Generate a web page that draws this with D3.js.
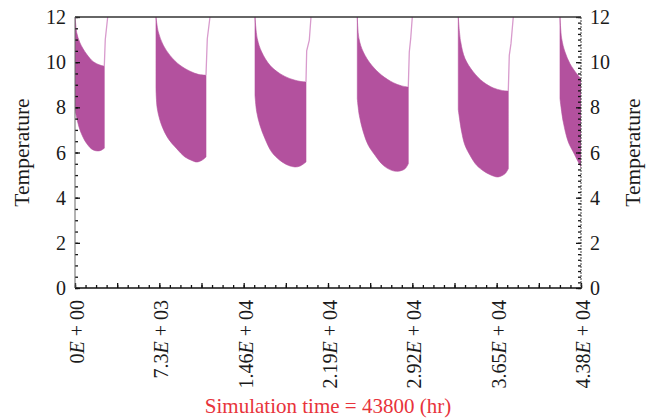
<!DOCTYPE html>
<html><head><meta charset="utf-8">
<script src="https://cdn.jsdelivr.net/npm/d3@7"></script>
<style>
body{margin:0;background:#fff;}
svg{display:block;}
text{font-family:"Liberation Serif","DejaVu Serif",serif;fill:#1a1a1a;}
</style>
</head><body><svg id="c" width="658" height="418"></svg>
<script>
// Upper envelope of the temperature band for each yearly cycle: [time (hr), temperature]
const upperEnvelope = [
  [[0,12.0],[50,11.75],[150,11.3],[433,10.85],[1013,10.35],[1584,10.02],[2164,9.87],[2536,9.82]],
  [[7011,12.0],[7210,11.34],[7643,10.75],[8223,10.3],[9089,9.86],[9954,9.6],[10673,9.46],[11339,9.42]],
  [[15581,12.0],[15780,11.04],[16161,10.45],[16880,9.86],[17745,9.49],[18611,9.27],[19476,9.15],[19995,9.12]],
  [[24436,12.0],[24583,11.04],[24955,10.45],[25682,9.86],[26548,9.42],[27552,9.09],[28279,8.95],[28850,8.9]],
  [[33178,12.0],[33386,10.9],[33758,10.16],[34477,9.57],[35342,9.12],[36208,8.86],[36935,8.75],[37506,8.72]],
  [[41982,12.0],[42129,11.04],[42415,10.45],[42848,9.93],[43428,9.49],[43800,9.27]]
];
// Lower envelope of the band
const lowerEnvelope = [
  [[0,7.9],[430,7.0],[1010,6.4],[1585,6.11],[2164,6.08],[2536,6.19]],
  [[7011,8.83],[7124,7.94],[7505,7.2],[8076,6.61],[8803,6.17],[9522,5.8],[10102,5.65],[10535,5.58],[10967,5.65],[11339,5.8]],
  [[15581,8.53],[15728,7.8],[16014,7.2],[16447,6.61],[17027,6.02],[17745,5.65],[18463,5.43],[19043,5.36],[19476,5.4],[19995,5.58]],
  [[24436,8.38],[24609,7.65],[24955,6.91],[25388,6.32],[25968,5.88],[26686,5.43],[27413,5.21],[27985,5.17],[28565,5.28],[28850,5.5]],
  [[33178,7.9],[33472,6.91],[33758,6.32],[34191,5.88],[34771,5.43],[35489,5.14],[36208,4.96],[36641,4.92],[37221,5.06],[37506,5.28]],
  [[41982,8.38],[42267,7.35],[42700,6.47],[43133,6.02],[43566,5.58],[43800,5.36]]
];
// Thin recovery line after each band
const recoveryLine = [
  [[2536,9.82],[2620,11.0],[2830,12.0]],
  [[11339,9.42],[11452,11.04],[11685,12.0]],
  [[19995,9.12],[20055,10.5],[20281,10.97],[20428,12.0]],
  [[28850,8.9],[28937,10.45],[29058,11.04],[29197,12.0]],
  [[37506,8.72],[37592,10.3],[37739,10.82],[37938,12.0]]
];
const xTickValues = [0, 7300, 14600, 21900, 29200, 36500, 43800];
const xTickMantissa = ["0", "7.3", "1.46", "2.19", "2.92", "3.65", "4.38"];
const xTickExponent = ["00", "03", "04", "04", "04", "04", "04"];
const yTickValues = [0, 2, 4, 6, 8, 10, 12];
const xTitle = "Simulation time = 43800 (hr)";
const yTitle = "Temperature";

const svg = d3.select("#c");
const L = 75, R = 581, T = 17, B = 288;
const x = d3.scaleLinear().domain([0, 43800]).range([L, R]);
const y = d3.scaleLinear().domain([0, 12]).range([B, T]);

svg.append("defs").append("clipPath").attr("id","clip")
  .append("rect").attr("x", L).attr("y", T).attr("width", R-L).attr("height", B-T);

const plot = svg.append("g").attr("clip-path","url(#clip)");
const line = d3.line().x(d => x(d[0])).y(d => y(d[1])).curve(d3.curveCatmullRom);

upperEnvelope.forEach((up, i) => {
  const lo = lowerEnvelope[i].slice().reverse();
  const d = line(up) + "L" + line(lo).slice(1) + "Z";
  plot.append("path").attr("d", d).attr("fill", "#b3519e").attr("stroke", "#b3519e").attr("stroke-width", 0.6);
});
const lineLin = d3.line().x(d => x(d[0])).y(d => y(d[1]));
recoveryLine.forEach(r => {
  plot.append("path").attr("d", lineLin(r)).attr("fill","none")
    .attr("stroke","#d89bcd").attr("stroke-width",1.3);
});

// Axes ticks
const minorX = d3.range(0, 43800 + 1, 912.5);
const majorX = d3.range(0, 43800 + 1, 3650);
svg.append("g").attr("transform", `translate(0,${B})`)
  .call(d3.axisBottom(x).tickValues(minorX).tickSize(-3).tickFormat(""))
  .call(g => g.select(".domain").remove())
  .selectAll("line").attr("stroke","#111").attr("stroke-width",1.3);
svg.append("g").attr("transform", `translate(0,${B})`)
  .call(d3.axisBottom(x).tickValues(majorX).tickSize(-5).tickFormat(""))
  .call(g => g.select(".domain").remove())
  .selectAll("line").attr("stroke","#111").attr("stroke-width",1.3);

const minorY = d3.range(0, 12.01, 0.5);
const minorYR = d3.range(0, 12.01, 0.25);
svg.append("g").attr("transform", `translate(${L},0)`)
  .call(d3.axisLeft(y).tickValues(minorY).tickSize(-3).tickFormat(""))
  .call(g => g.select(".domain").remove())
  .selectAll("line").attr("stroke","#111").attr("stroke-width",1.3);
svg.append("g").attr("transform", `translate(${L},0)`)
  .call(d3.axisLeft(y).tickValues(yTickValues).tickSize(-5).tickFormat(""))
  .call(g => g.select(".domain").remove())
  .selectAll("line").attr("stroke","#111").attr("stroke-width",1.3);
svg.append("g").attr("transform", `translate(${R},0)`)
  .call(d3.axisRight(y).tickValues(minorYR).tickSize(-3).tickFormat(""))
  .call(g => g.select(".domain").remove())
  .selectAll("line").attr("stroke","#111").attr("stroke-width",1.3);
svg.append("g").attr("transform", `translate(${R},0)`)
  .call(d3.axisRight(y).tickValues(yTickValues).tickSize(-5).tickFormat(""))
  .call(g => g.select(".domain").remove())
  .selectAll("line").attr("stroke","#111").attr("stroke-width",1.3);

// Frame
svg.append("line").attr("x1",L).attr("x2",R).attr("y1",T).attr("y2",T).attr("stroke","#333").attr("stroke-width",1.5);
svg.append("line").attr("x1",L).attr("x2",R+1).attr("y1",B).attr("y2",B).attr("stroke","#111").attr("stroke-width",1.5);
svg.append("line").attr("x1",L).attr("x2",L).attr("y1",T).attr("y2",B).attr("stroke","#666").attr("stroke-width",1);
svg.append("line").attr("x1",R).attr("x2",R).attr("y1",T).attr("y2",B).attr("stroke","#444").attr("stroke-width",1).attr("stroke-dasharray","2,1");

// Y tick labels
const fs = 20;
yTickValues.forEach(v => {
  svg.append("text").attr("x", L - 9).attr("y", y(v)).attr("dy","0.35em")
    .attr("text-anchor","end").attr("font-size",fs).text(v);
  svg.append("text").attr("x", R + 9).attr("y", y(v)).attr("dy","0.35em")
    .attr("text-anchor","start").attr("font-size",fs).text(v);
});
// X tick labels (rotated)
xTickValues.forEach((v, i) => {
  const t = svg.append("text")
    .attr("transform", `translate(${x(v) + 9},300) rotate(-90)`)
    .attr("text-anchor","end").attr("font-size",fs);
  t.append("tspan").text(xTickMantissa[i]);
  t.append("tspan").attr("font-style","italic").text("E");
  t.append("tspan").text(" + " + xTickExponent[i]);
});
// Titles
svg.append("text").attr("x", (L+R)/2).attr("y", 413).attr("text-anchor","middle")
  .attr("font-size", 21).style("fill","#e8333b").text(xTitle);
svg.append("text").attr("transform", `translate(29,${(T+B)/2}) rotate(-90)`)
  .attr("text-anchor","middle").attr("font-size", 21.5).text(yTitle);
svg.append("text").attr("transform", `translate(640,${(T+B)/2}) rotate(-90)`)
  .attr("text-anchor","middle").attr("font-size", 21.5).text(yTitle);
</script>
</body></html>
